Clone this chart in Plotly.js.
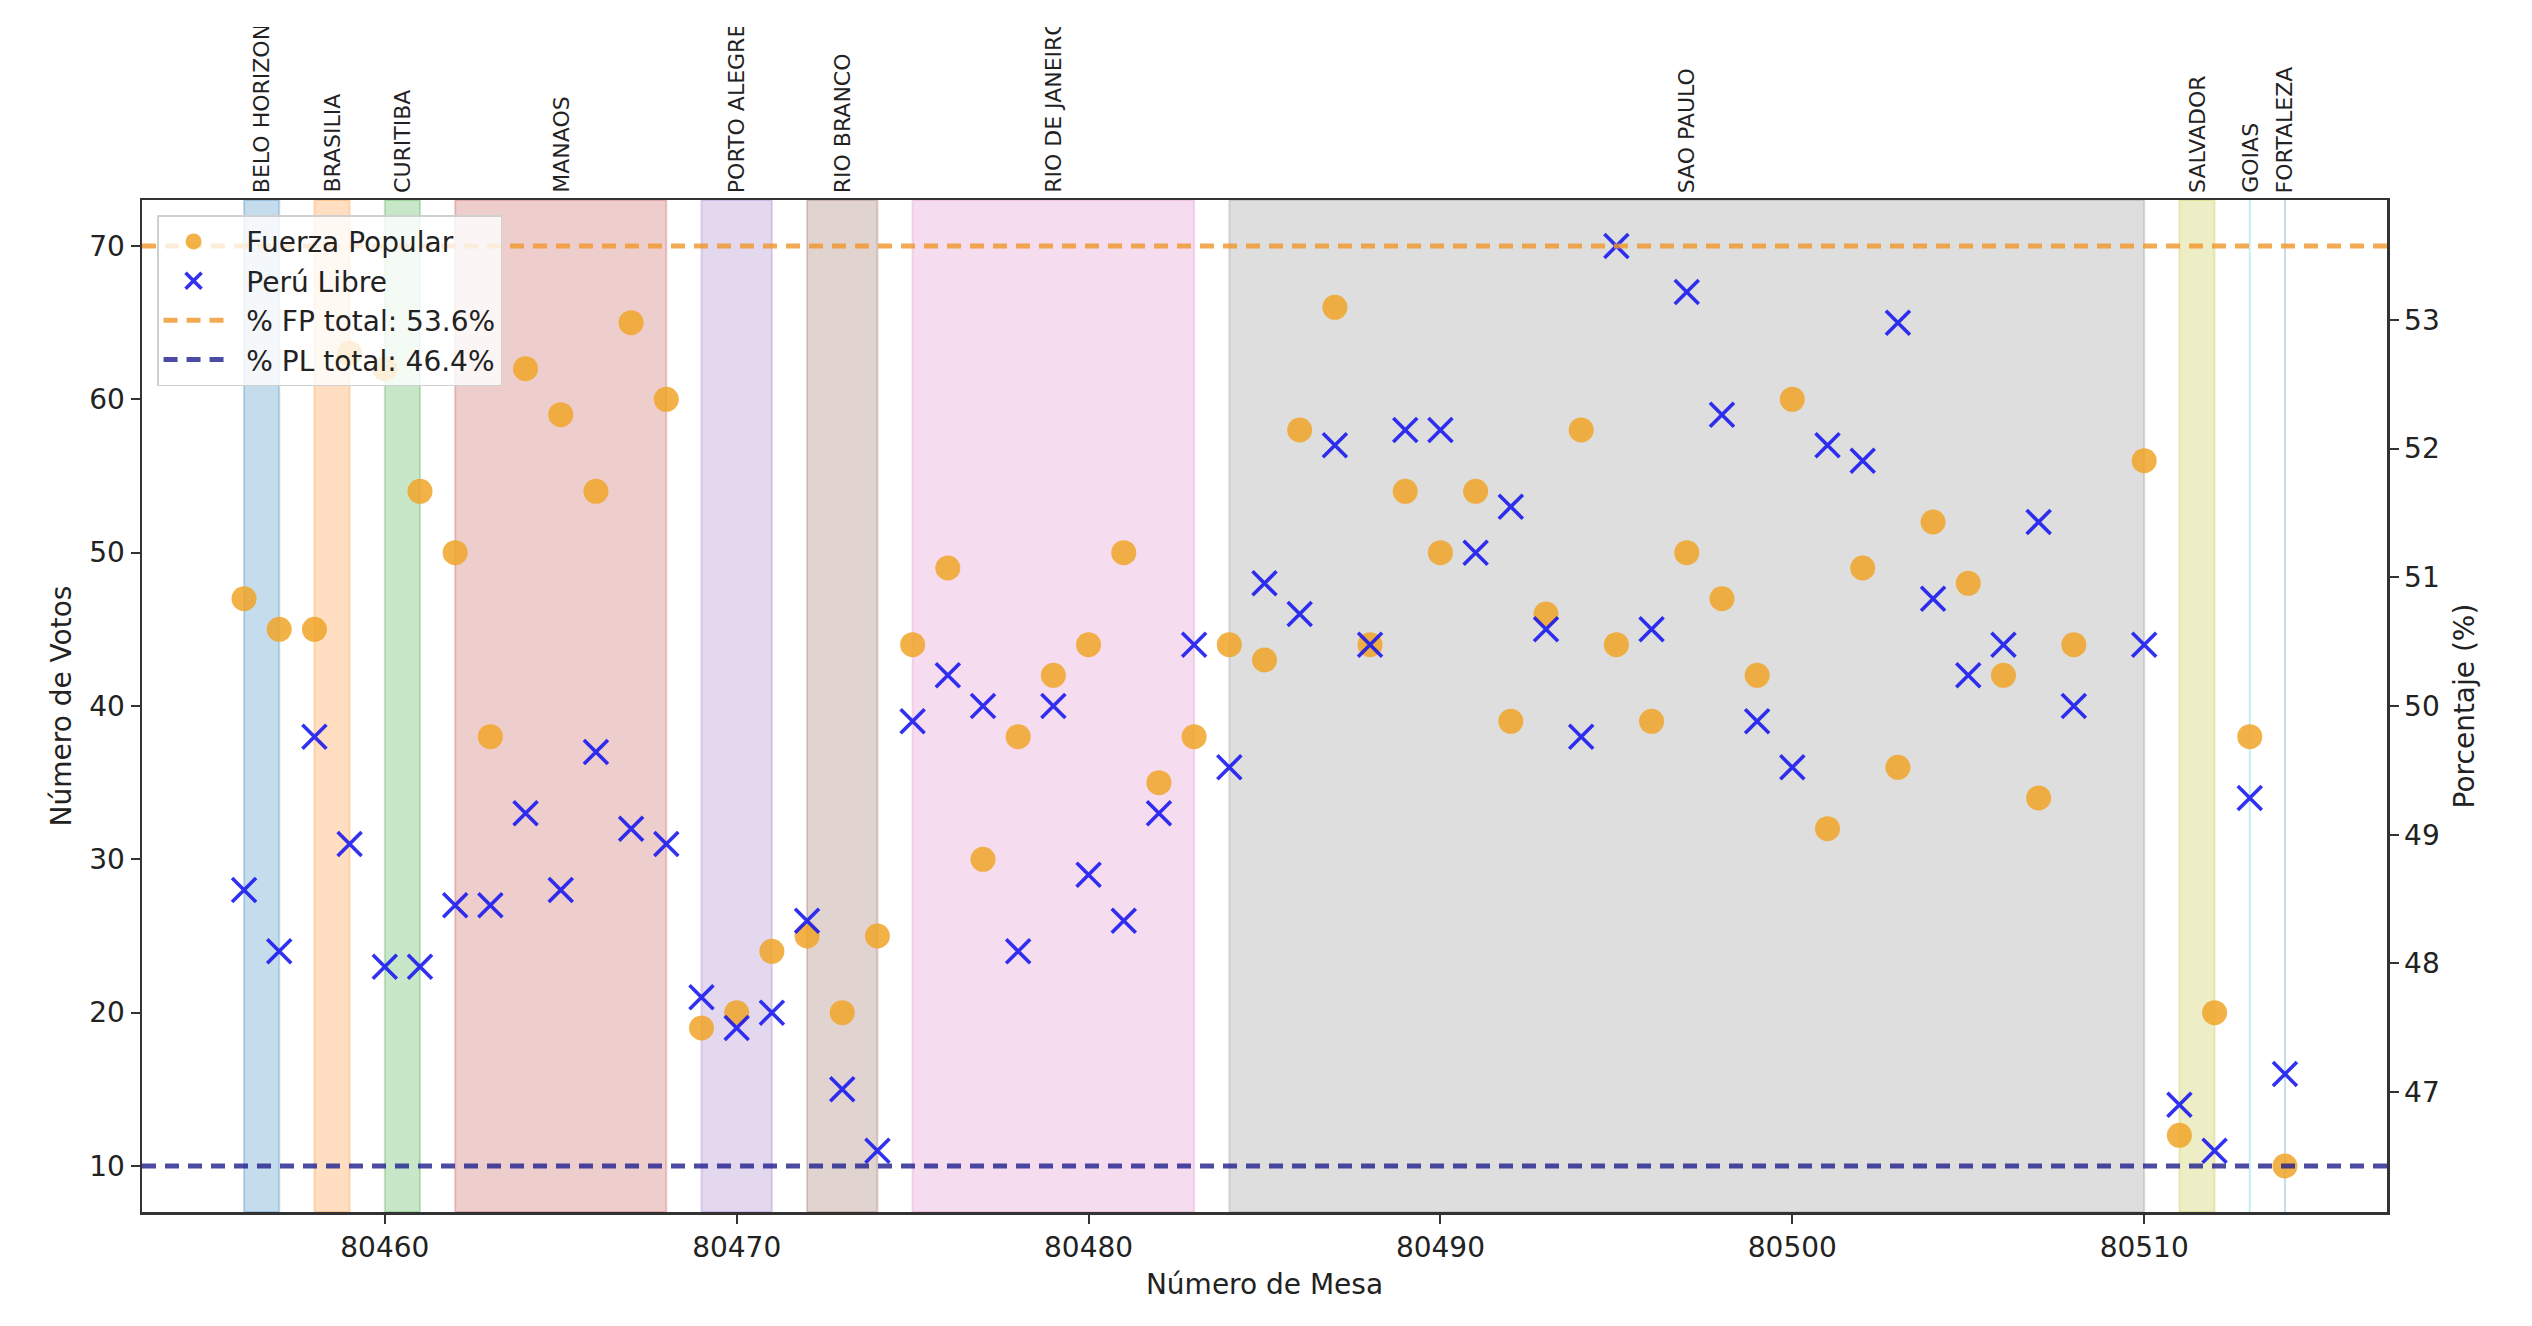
<!DOCTYPE html>
<html><head><meta charset="utf-8">
<script src="https://cdn.plot.ly/plotly-3.0.1.min.js"></script>
<style>
html,body{margin:0;padding:0;background:#fff;width:2532px;height:1326px;overflow:hidden;}
#wrap{position:absolute;left:0;top:27px;width:2532px;height:1299px;overflow:hidden;}
#chart{width:2532px;height:1299px;}
</style></head><body>
<div id="wrap"><div id="chart"></div></div>
<script>
// ---- data ----
const mesas = [80456,80457,80458,80459,80460,80461,80462,80463,80464,80465,80466,80467,80468,80469,80470,80471,80472,80473,80474,80475,80476,80477,80478,80479,80480,80481,80482,80483,80484,80485,80486,80487,80488,80489,80490,80491,80492,80493,80494,80495,80496,80497,80498,80499,80500,80501,80502,80503,80504,80505,80506,80507,80508,80510,80511,80512,80513,80514];
const votosFP = [47,45,45,63,62,54,50,38,62,59,54,65,60,19,20,24,25,20,25,44,49,30,38,42,44,50,35,38,44,43,58,66,44,54,50,54,39,46,58,44,39,50,47,42,60,32,49,36,52,48,42,34,44,56,12,20,38,10];
const votosPL = [28,24,38,31,23,23,27,27,33,28,37,32,31,21,19,20,26,15,11,39,42,40,24,40,29,26,33,44,36,48,46,57,44,58,58,50,53,45,38,70,45,67,59,39,36,57,56,65,47,42,44,52,40,44,14,11,34,16];
const ciudades = ["BELO HORIZONTE","BRASILIA","CURITIBA","MANAOS","PORTO ALEGRE","RIO BRANCO","RIO DE JANEIRO","SAO PAULO","SALVADOR","GOIAS","FORTALEZA"];
const ciudadInicio = [80456,80458,80460,80462,80469,80472,80475,80484,80511,80513,80514];
const ciudadFin    = [80457,80459,80461,80468,80471,80474,80483,80510,80512,80513,80514];
const xTickVals = [80460,80470,80480,80490,80500,80510];
const yTickVals = [10,20,30,40,50,60,70];
const y2TickVals = [47,48,49,50,51,52,53];

// ---- styles ----
const spanColors = [[31,119,180],[255,127,14],[44,160,44],[190,60,60],[148,103,189],[140,86,75],[220,119,194],[127,127,127],[188,189,34],[23,190,207]];
const FONT = 'DejaVu Sans, Verdana, sans-serif';
const PAD = '\u00A0\u00A0';

// ---- derived ----
const sum = a => a.reduce((s,v)=>s+v,0);
const totFP = sum(votosFP), totPL = sum(votosPL);
const pctFP = 100*totFP/(totFP+totPL);
const pctPL = 100*totPL/(totFP+totPL);
function padRange(lo,hi){const p=0.05*(hi-lo);return [lo-p,hi+p];}
const xRange = padRange(Math.min(...mesas,...ciudadInicio), Math.max(...mesas,...ciudadFin));
const allV = votosFP.concat(votosPL);
const yRange = padRange(Math.min(...allV), Math.max(...allV));
const y2Range = padRange(Math.min(pctFP,pctPL), Math.max(pctFP,pctPL));

const traces = [
  {x:mesas, y:votosFP, type:'scatter', mode:'markers', name:PAD+'Fuerza Popular',
   marker:{symbol:'circle', size:25, color:'rgba(240,164,40,0.85)', line:{width:0}}},
  {x:mesas, y:votosPL, type:'scatter', mode:'markers', name:PAD+'Perú Libre',
   marker:{symbol:'x-thin', size:24, color:'rgba(20,20,240,0.88)', line:{width:3.6, color:'rgba(20,20,240,0.88)'}}},
  {x:xRange, y:[pctFP,pctFP], yaxis:'y2', type:'scatter', mode:'lines', name:PAD+'% FP total: '+pctFP.toFixed(1)+'%',
   line:{color:'rgba(240,150,40,0.8)', width:5, dash:'14px,9px'}},
  {x:xRange, y:[pctPL,pctPL], yaxis:'y2', type:'scatter', mode:'lines', name:PAD+'% PL total: '+pctPL.toFixed(1)+'%',
   line:{color:'rgba(30,30,140,0.8)', width:5, dash:'14px,9px'}}
];

const shapes = ciudades.map((c,i)=>{
  const col = spanColors[i % spanColors.length];
  const rgba = 'rgba('+col.join(',')+',0.26)';
  return {type:'rect', xref:'x', yref:'paper', x0:ciudadInicio[i], x1:ciudadFin[i], y0:0, y1:1,
          fillcolor:rgba, line:{color:rgba, width:2}, layer:'below'};
});
const annotations = ciudades.map((c,i)=>({
  x:(ciudadInicio[i]+ciudadFin[i])/2, xref:'x', y:1, yref:'paper', yanchor:'bottom', xanchor:'center',
  yshift:5, textangle:-90, text:c, showarrow:false, font:{family:FONT, size:22, color:'#222'}
}));

const axisCommon = {ticks:'outside', ticklen:9, tickwidth:2, tickcolor:'#333', showline:true, linecolor:'#333',
  linewidth:2.5, showgrid:false, zeroline:false, tickfont:{family:FONT,size:28,color:'#222'}};

const layout = {
  width:2532, height:1299,
  margin:{l:142, r:145, t:173, b:114, pad:0},
  paper_bgcolor:'#fff', plot_bgcolor:'#fff',
  font:{family:FONT, size:28, color:'#222'},
  showlegend:true, hovermode:false,
  legend:{x:0.0067, y:0.985, xanchor:'left', yanchor:'top', bgcolor:'rgba(255,255,255,0.8)',
          bordercolor:'#d0d0d0', borderwidth:1.5, font:{family:FONT,size:28,color:'#222'}, itemwidth:60, tracegroupgap:8},
  xaxis:Object.assign({}, axisCommon, {range:xRange, tickvals:xTickVals, ticktext:xTickVals.map(String), mirror:true,
          title:{text:'Número de Mesa', standoff:12, font:{family:FONT,size:28,color:'#222'}}}),
  yaxis:Object.assign({}, axisCommon, {range:yRange, tickvals:yTickVals, ticktext:yTickVals.map(String),
          title:{text:'Número de Votos', standoff:10, font:{family:FONT,size:28,color:'#222'}}}),
  yaxis2:Object.assign({}, axisCommon, {range:y2Range, overlaying:'y', side:'right', tickvals:y2TickVals, ticktext:y2TickVals.map(String),
          title:{text:'Porcentaje (%)', standoff:16, font:{family:FONT,size:28,color:'#222'}}}),
  shapes:shapes, annotations:annotations
};

Plotly.newPlot('chart', traces, layout, {staticPlot:true, displayModeBar:false});
</script>
</body></html>
